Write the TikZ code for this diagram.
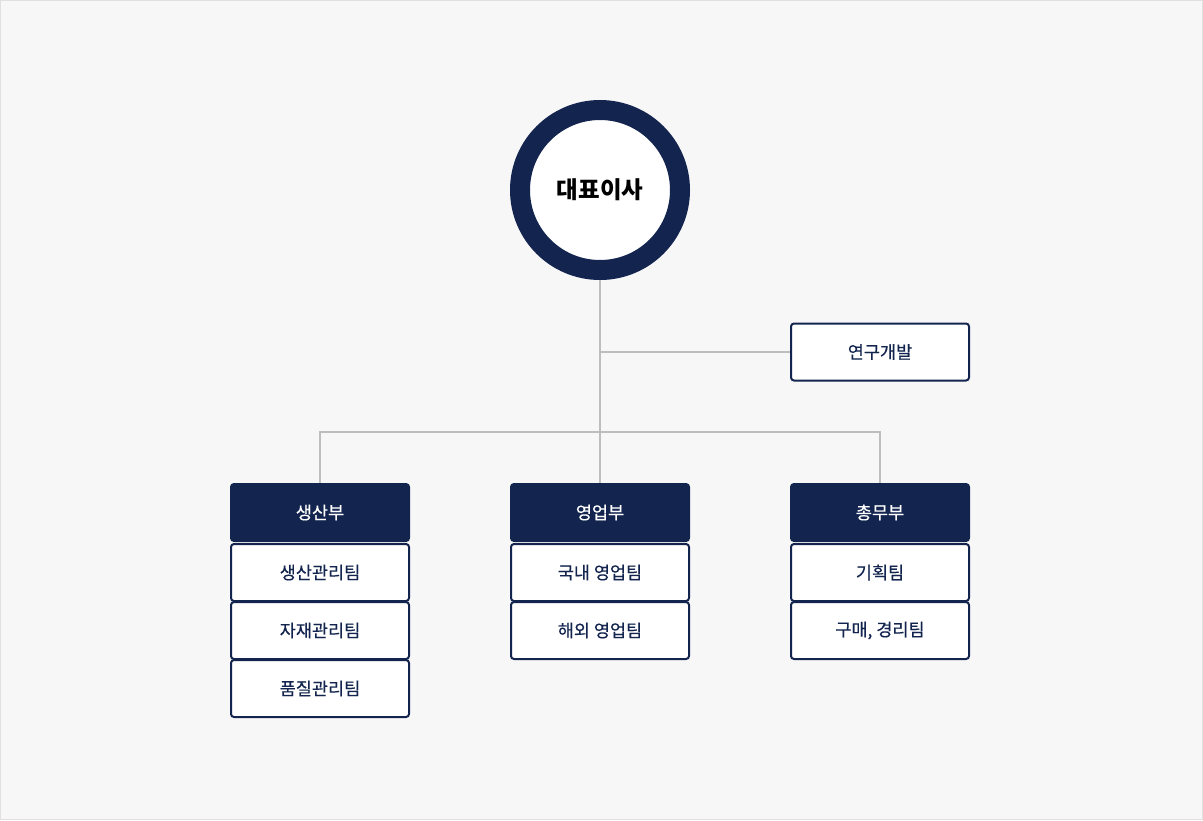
\documentclass[tikz,border=0pt]{standalone}
\usepackage{fontspec}
\newfontfamily\kr{Noto Sans CJK KR}
\newfontfamily\krm{Noto Sans CJK KR}[FakeBold=0.4]
\definecolor{navy}{HTML}{13254F}
\definecolor{bgcol}{HTML}{F7F7F7}
\definecolor{linecol}{HTML}{BDBDBD}
\begin{document}
\begin{tikzpicture}[x=1pt, y=-1pt]
	\fill[bgcol, draw=black!12] (0.5,0.5) rectangle (1202.5,819.5);
	\useasboundingbox (0,0) rectangle (1203,820);
	\node (ceo) at (600,190) [circle, draw=navy, line width=20pt, fill=white, minimum size=160pt, inner sep=0pt, font=\kr\bfseries\fontsize{23.5}{28}\selectfont]{대표이사};
	\begin{scope} [every node/.style={rectangle, rounded corners=3pt, draw=navy, line width=2pt, fill=white, text=navy, minimum width=178pt, minimum height=57pt, font=\krm\fontsize{17.5}{21}\selectfont}]
		\node (rnd) at (880,352){연구개발};
		\node[fill=navy, text=white] (d1) at (320,512.5){생산부};
		\node[fill=navy, text=white] (d2) at (600,512.5){영업부};
		\node[fill=navy, text=white] (d3) at (880,512.5){총무부};
		\node (t1) at (320,572.5){생산관리팀};
		\node (t2) at (320,630.5){자재관리팀};
		\node (t3) at (320,688.5){품질관리팀};
		\node (t4) at (600,572.5){국내 영업팀};
		\node (t5) at (600,630.5){해외 영업팀};
		\node (t6) at (880,572.5){기획팀};
		\node (t7) at (880,630.5){구매, 경리팀};
	\end{scope}
	\coordinate (bus) at (600,432);
	\draw[linecol, line width=2pt] (ceo.south) -- (d2.north);
	\draw[linecol, line width=2pt] (ceo.south |- rnd.west) -- (rnd.west);
	\draw[linecol, line width=2pt] (d1.north) |- (bus) -| (d3.north);
\end{tikzpicture}
\end{document}
